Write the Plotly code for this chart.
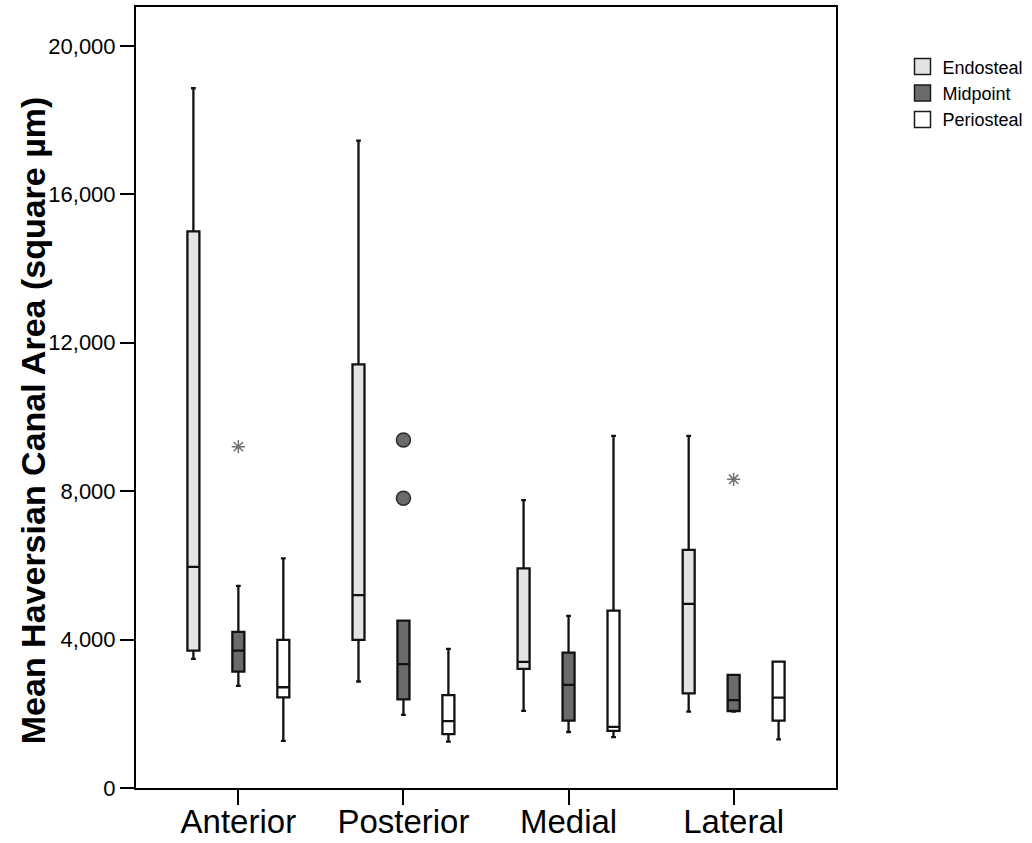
import plotly.graph_objects as go

categories = ["Anterior", "Posterior", "Medial", "Lateral"]

# Endosteal
endo_lower = [3480, 2870, 2080, 2060]
endo_q1 = [3700, 3990, 3210, 2550]
endo_median = [5960, 5200, 3400, 4960]
endo_q3 = [15000, 11420, 5920, 6420]
endo_upper = [18860, 17450, 7760, 9490]

# Midpoint
mid_lower = [2750, 1970, 1510, 2060]
mid_q1 = [3135, 2390, 1815, 2075]
mid_median = [3700, 3340, 2780, 2370]
mid_q3 = [4210, 4510, 3650, 3050]
mid_upper = [5450, 4510, 4640, 3050]

# Periosteal
peri_lower = [1270, 1250, 1370, 1310]
peri_q1 = [2445, 1450, 1540, 1815]
peri_median = [2715, 1805, 1650, 2435]
peri_q3 = [3990, 2505, 4780, 3405]
peri_upper = [6190, 3750, 9490, 3405]

# Midpoint outliers
circle_cats = ["Posterior", "Posterior"]
circle_vals = [9380, 7810]
star_cats = ["Anterior", "Lateral"]
star_vals = [9200, 8320]

series = [
    ("Endosteal", "#e3e3e3", endo_lower, endo_q1, endo_median, endo_q3, endo_upper),
    ("Midpoint", "#6b6b6b", mid_lower, mid_q1, mid_median, mid_q3, mid_upper),
    ("Periosteal", "#ffffff", peri_lower, peri_q1, peri_median, peri_q3, peri_upper),
]

fig = go.Figure()
for name, color, lo, q1, med, q3, up in series:
    fig.add_trace(go.Box(
        x=categories, q1=q1, median=med, q3=q3,
        lowerfence=lo, upperfence=up,
        name=name, fillcolor=color,
        line=dict(color="#111111", width=2.3),
        whiskerwidth=0.4, boxpoints=False,
        showlegend=False, hoverinfo="skip",
    ))

fig.add_trace(go.Scatter(
    x=circle_cats, y=circle_vals, mode="markers",
    marker=dict(symbol="circle", size=14, color="#6b6b6b",
                line=dict(color="#2a2a2a", width=1.5)),
    showlegend=False, hoverinfo="skip",
))
fig.add_trace(go.Scatter(
    x=star_cats, y=star_vals, mode="markers",
    marker=dict(symbol="asterisk-open", size=11, color="#707070",
                line=dict(color="#707070", width=1.5)),
    showlegend=False, hoverinfo="skip",
))

# legend entries
for name, color, *_ in series:
    fig.add_trace(go.Scatter(
        x=[None], y=[None], mode="markers", name=name,
        marker=dict(symbol="square", size=20, color=color,
                    line=dict(color="#1a1a1a", width=1.5)),
        showlegend=True,
    ))

fig.update_layout(
    template="none",
    width=1032, height=843,
    margin=dict(l=136, r=196, t=7, b=55, autoexpand=False),
    paper_bgcolor="white", plot_bgcolor="white",
    boxmode="group", boxgap=0.183, boxgroupgap=0.733,
    font=dict(family="Liberation Sans, Arial, sans-serif", color="black"),
    legend=dict(x=1.095, y=0.947, xanchor="left", yanchor="top",
                font=dict(size=18), tracegroupgap=0, itemsizing="trace",
                bgcolor="rgba(0,0,0,0)"),
    annotations=[dict(
        text="<b>Mean Haversian Canal Area (square µm)</b>",
        xref="paper", yref="paper", x=-0.147, y=0.471,
        xanchor="center", yanchor="middle", textangle=-90, showarrow=False,
        font=dict(size=34, family="Liberation Sans, Arial", color="black"),
    )],
)
fig.update_xaxes(
    type="category", categoryorder="array", categoryarray=categories,
    range=[-0.62, 3.62], automargin=False,
    showline=True, mirror=True, linecolor="black", linewidth=2,
    ticks="outside", ticklen=15, tickwidth=2, tickcolor="black",
    ticklabelstandoff=-12,
    tickfont=dict(size=33), showgrid=False, zeroline=False,
)
fig.update_yaxes(
    range=[0, 21050], tickvals=[0, 4000, 8000, 12000, 16000, 20000],
    tickformat=",d", automargin=False,
    showline=True, mirror=True, linecolor="black", linewidth=2,
    ticks="outside", ticklen=14, tickwidth=2, tickcolor="black",
    tickfont=dict(size=22), showgrid=False, zeroline=False,
)

fig.write_html("out.html")
